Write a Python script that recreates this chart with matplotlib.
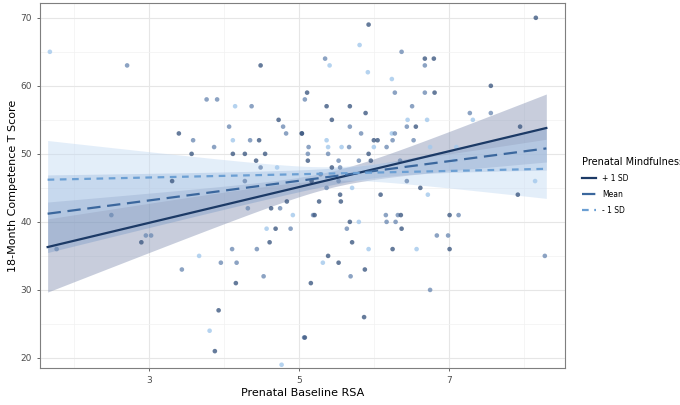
import matplotlib.pyplot as plt
import numpy as np

# scatter points: (RSA, T score, mindfulness group d/m/l)
pts = [
    (1.68, 65, 'l'), (2.71, 63, 'm'), (4.49, 63, 'd'), (3.77, 58, 'm'), (3.91, 58, 'm'),
    (4.15, 57, 'l'), (4.37, 57, 'm'), (4.07, 54, 'm'), (4.73, 55, 'd'), (4.79, 54, 'm'),
    (4.83, 53, 'm'), (5.04, 53, 'd'), (3.40, 53, 'd'), (3.59, 52, 'm'), (3.87, 51, 'm'),
    (4.12, 52, 'l'), (4.35, 52, 'm'), (4.47, 52, 'd'), (3.57, 50, 'd'), (4.12, 50, 'd'),
    (4.28, 50, 'd'), (4.55, 50, 'd'), (4.43, 49, 'd'), (4.49, 48, 'm'), (4.71, 48, 'l'),
    (3.31, 46, 'd'), (4.28, 46, 'm'),
    (5.93, 69, 'd'), (5.81, 66, 'l'), (6.37, 65, 'm'), (5.35, 64, 'm'), (5.41, 63, 'l'),
    (6.68, 64, 'd'), (6.80, 64, 'd'), (6.68, 63, 'm'), (5.92, 62, 'l'), (6.24, 61, 'l'),
    (5.11, 59, 'd'), (5.08, 58, 'm'), (6.28, 59, 'm'), (6.68, 59, 'm'), (6.81, 59, 'd'),
    (7.56, 60, 'd'), (5.37, 57, 'd'), (5.68, 57, 'd'), (6.51, 57, 'm'), (5.89, 56, 'd'),
    (7.28, 56, 'm'), (7.56, 56, 'm'), (7.32, 55, 'l'), (5.44, 55, 'd'), (6.45, 55, 'l'),
    (6.71, 55, 'l'), (5.68, 54, 'm'), (6.44, 54, 'm'), (6.56, 54, 'd'), (7.95, 54, 'd'),
    (5.04, 53, 'd'), (5.83, 53, 'm'), (6.24, 53, 'l'), (6.28, 53, 'm'), (6.05, 52, 'd'),
    (6.25, 52, 'm'), (6.00, 52, 'd'), (6.53, 52, 'm'), (5.37, 52, 'l'), (5.13, 51, 'm'),
    (5.39, 51, 'l'), (5.57, 51, 'l'), (5.67, 51, 'm'), (6.00, 51, 'l'), (6.17, 51, 'm'),
    (6.75, 51, 'l'), (7.10, 51, 'l'), (5.12, 50, 'm'), (5.39, 50, 'm'), (5.93, 50, 'd'),
    (5.12, 49, 'd'), (5.53, 49, 'm'), (5.80, 49, 'm'), (5.96, 49, 'd'), (6.35, 49, 'm'),
    (7.07, 49, 'l'), (5.44, 48, 'd'), (5.29, 47, 'm'), (5.55, 48, 'm'), (5.17, 46, 'd'),
    (5.53, 46, 'm'), (6.44, 46, 'm'), (5.37, 45, 'm'), (5.71, 45, 'l'), (6.62, 45, 'd'),
    (8.15, 46, 'l'), (7.92, 44, 'd'), (6.09, 44, 'd'), (6.72, 44, 'l'), (5.55, 44, 'd'),
    (8.16, 70, 'd'),
    (2.50, 41, 'm'), (1.77, 36, 'm'), (2.90, 37, 'd'), (2.96, 38, 'm'), (3.03, 38, 'm'),
    (3.44, 33, 'm'), (3.67, 35, 'l'), (3.96, 34, 'm'), (4.16, 31, 'd'), (3.93, 27, 'd'),
    (3.81, 24, 'l'), (3.88, 21, 'd'), (4.17, 34, 'm'), (4.11, 36, 'm'), (4.44, 36, 'm'),
    (4.53, 32, 'm'), (4.61, 37, 'd'), (4.57, 39, 'l'), (4.69, 39, 'd'), (4.89, 39, 'm'),
    (4.32, 42, 'm'), (4.63, 42, 'd'), (4.75, 42, 'm'), (4.84, 43, 'd'), (4.92, 41, 'l'),
    (4.77, 19, 'l'), (5.07, 23, 'm'),
    (5.56, 43, 'd'), (5.27, 43, 'd'), (5.19, 41, 'm'), (5.21, 41, 'd'), (6.16, 41, 'm'),
    (6.32, 41, 'm'), (6.36, 41, 'd'), (7.01, 41, 'd'), (7.13, 41, 'm'), (5.68, 40, 'd'),
    (5.80, 40, 'l'), (6.17, 40, 'm'), (6.29, 40, 'm'), (5.64, 39, 'm'), (6.37, 39, 'd'),
    (5.71, 37, 'd'), (6.84, 38, 'm'), (6.99, 38, 'm'), (5.93, 36, 'l'), (6.25, 36, 'd'),
    (6.57, 36, 'l'), (7.01, 36, 'd'), (5.39, 35, 'd'), (8.28, 35, 'm'), (5.32, 34, 'l'),
    (5.53, 34, 'd'), (5.88, 33, 'd'), (5.69, 32, 'm'), (5.16, 31, 'd'), (6.75, 30, 'm'),
    (5.87, 26, 'd'), (5.08, 23, 'd'),
]
pt_colors = {'d': '#3f5a82', 'm': '#6f8cb4', 'l': '#a3c8ec'}

# simple slopes: label, line at x=1.65, line at x=8.3, CI centre, min half-width, curvature
x_ends = [1.65, 8.3]
labels = ['+ 1 SD', 'Mean', '- 1 SD']
y_left = [36.3, 41.2, 46.2]
y_right = [53.8, 50.8, 47.8]
ci_xm = [5.46, 5.97, 5.46]
ci_h0 = [1.2, 1.0, 1.0]
ci_k = [2.92, 1.69, 2.22]

line_colors = ['#1c3a66', '#3b679d', '#6b9fd3']
band_colors = ['#8592b3', '#6f93c4', '#c3daf3']
band_alpha = [0.45, 0.35, 0.45]
styles = ['-', (0, (6, 3)), (0, (3, 2.5))]

fig = plt.figure(figsize=(6.8, 4.05), dpi=100)
ax = fig.add_axes([0.059, 0.091, 0.772, 0.902])

x = np.linspace(x_ends[0], x_ends[1], 200)
for i in range(3):
    y = np.interp(x, x_ends, [y_left[i], y_right[i]])
    hw = np.sqrt(ci_h0[i] ** 2 + ci_k[i] * (x - ci_xm[i]) ** 2)
    ax.fill_between(x, y - hw, y + hw, color=band_colors[i], alpha=band_alpha[i],
                    lw=0, zorder=2)

xs = [p[0] for p in pts]
ys = [p[1] for p in pts]
cs = [pt_colors[p[2]] for p in pts]
ax.scatter(xs, ys, s=11, c=cs, alpha=0.8, lw=0, zorder=3)

for i in range(3):
    y = np.interp(x, x_ends, [y_left[i], y_right[i]])
    ax.plot(x, y, color=line_colors[i], lw=1.6, linestyle=styles[i], label=labels[i],
            zorder=4)

ax.set_xlim(1.55, 8.55)
ax.set_ylim(18.5, 72.2)
ax.set_xticks([3, 5, 7])
ax.set_yticks(range(20, 71, 10))
ax.set_xticks([2, 4, 6, 8], minor=True)
ax.set_yticks(range(25, 71, 10), minor=True)
ax.grid(which='major', color='#e6e6e6', lw=0.8, zorder=0)
ax.grid(which='minor', color='#f2f2f2', lw=0.5, zorder=0)
ax.set_axisbelow(True)
ax.tick_params(which='major', labelsize=6.5, colors='#4d4d4d', length=2.5, width=0.6)
ax.tick_params(which='minor', length=0)
for s in ax.spines.values():
    s.set_color('#7f7f7f')
    s.set_linewidth(0.8)

ax.set_xlabel('Prenatal Baseline RSA', fontsize=8, labelpad=2)
ax.set_ylabel('18-Month Competence T Score', fontsize=8, labelpad=2)

leg = fig.legend(loc='upper left', bbox_to_anchor=(0.848, 0.625), frameon=False,
                 title='Prenatal Mindfulness', fontsize=5.5, title_fontsize=7,
                 handlelength=1.8, labelspacing=0.9, borderpad=0.2)
leg._legend_box.align = 'left'

fig.savefig('out.png', dpi=100)
